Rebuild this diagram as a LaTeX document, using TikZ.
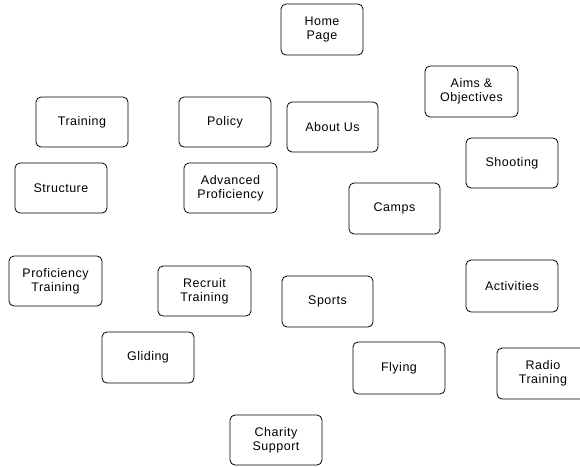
\documentclass[tikz,border=0pt]{standalone}
\usepackage{fontspec}
\setmainfont{Liberation Sans}[LetterSpace=4]
\begin{document}
\begin{tikzpicture}[x=1pt,y=-1pt,
  pagebox/.style={draw=black, line width=0.8pt, rounded corners=5pt, fill=white,
    inner sep=0pt, align=center, minimum width=92pt, minimum height=50pt,
    font=\fontsize{12.5}{14.3}\selectfont}]
\useasboundingbox[fill=white] (0,0) rectangle (580,466);
\node[pagebox, minimum width=82pt, minimum height=51pt] (home) at (322,29.5) {Home\\Page};
\node[pagebox, minimum width=93pt, minimum height=51pt] (aims) at (471.5,91.5) {Aims \&\\Objectives};
\node[pagebox] (training) at (82,122) {Training};
\node[pagebox] (policy) at (225,122) {Policy};
\node[pagebox, minimum width=91pt] (about) at (332.5,127) {About Us};
\node[pagebox] (shooting) at (512,163) {Shooting};
\node[pagebox] (structure) at (61,188) {Structure};
\node[pagebox, minimum width=93pt] (advprof) at (230.5,188) {Advanced\\Proficiency};
\node[pagebox, minimum width=91pt, minimum height=51pt] (camps) at (394.5,208.5) {Camps};
\node[pagebox, minimum width=93pt] (proftrain) at (55.5,281) {Proficiency\\Training};
\node[pagebox, minimum width=93pt] (recruit) at (204.5,291) {Recruit\\Training};
\node[pagebox, minimum width=91pt, minimum height=51pt] (sports) at (327.5,301.5) {Sports};
\node[pagebox, minimum height=52pt] (activities) at (512,286) {Activities};
\node[pagebox, minimum height=51pt] (gliding) at (148,357.5) {Gliding};
\node[pagebox, minimum height=52pt] (flying) at (399,368) {Flying};
\node[pagebox, minimum height=51pt] (radio) at (543,373.5) {Radio\\Training};
\node[pagebox] (charity) at (276,440) {Charity\\Support};
\end{tikzpicture}
\end{document}
